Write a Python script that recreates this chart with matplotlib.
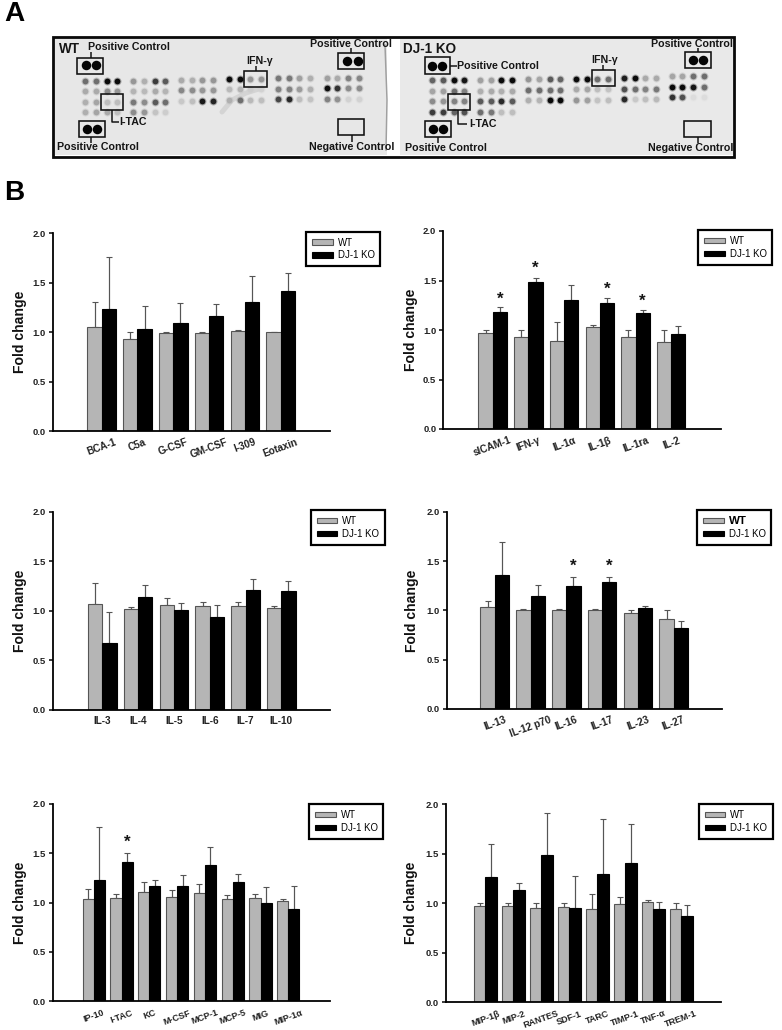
import matplotlib
import matplotlib.pyplot as plt
from matplotlib.patches import Rectangle

matplotlib.use('Agg')

plt.rcParams['font.family'] = ['Liberation Sans', 'DejaVu Sans']

W, H = 782, 1030

# --- values ---
labels_1 = ['BCA-1', 'C5a', 'G-CSF', 'GM-CSF', 'I-309', 'Eotaxin']
wt_1 = [1.05, 0.93, 0.99, 0.99, 1.01, 1.00]
wt_err_1 = [0.25, 0.07, 0.01, 0.01, 0.01, 0.005]
ko_1 = [1.23, 1.03, 1.09, 1.16, 1.30, 1.42]
ko_err_1 = [0.53, 0.23, 0.20, 0.12, 0.27, 0.18]
stars_1 = {}

labels_2 = ['sICAM-1', 'IFN-γ', 'IL-1α', 'IL-1β', 'IL-1ra', 'IL-2']
wt_2 = [0.97, 0.93, 0.89, 1.03, 0.93, 0.88]
wt_err_2 = [0.03, 0.07, 0.19, 0.025, 0.07, 0.12]
ko_2 = [1.18, 1.48, 1.30, 1.27, 1.17, 0.96]
ko_err_2 = [0.05, 0.05, 0.15, 0.05, 0.035, 0.08]
stars_2 = {0: 1.31, 1: 1.625, 3: 1.41, 4: 1.29}

labels_3 = ['IL-3', 'IL-4', 'IL-5', 'IL-6', 'IL-7', 'IL-10']
wt_3 = [1.065, 1.02, 1.06, 1.05, 1.05, 1.025]
wt_err_3 = [0.21, 0.02, 0.065, 0.04, 0.04, 0.025]
ko_3 = [0.67, 1.135, 1.01, 0.94, 1.205, 1.20]
ko_err_3 = [0.315, 0.12, 0.07, 0.12, 0.115, 0.095]
stars_3 = {}

labels_4 = ['IL-13', 'IL-12 p70', 'IL-16', 'IL-17', 'IL-23', 'IL-27']
wt_4 = [1.03, 1.005, 1.005, 1.005, 0.97, 0.91]
wt_err_4 = [0.06, 0.005, 0.005, 0.005, 0.03, 0.09]
ko_4 = [1.36, 1.145, 1.25, 1.285, 1.02, 0.825]
ko_err_4 = [0.33, 0.115, 0.09, 0.055, 0.025, 0.07]
stars_4 = {2: 1.45, 3: 1.45}

labels_5 = ['IP-10', 'I-TAC', 'KC', 'M-CSF', 'MCP-1', 'MCP-5', 'MIG', 'MIP-1α']
wt_5 = [1.04, 1.05, 1.105, 1.06, 1.095, 1.04, 1.05, 1.02]
wt_err_5 = [0.095, 0.04, 0.10, 0.065, 0.095, 0.035, 0.04, 0.015]
ko_5 = [1.23, 1.405, 1.17, 1.165, 1.38, 1.21, 0.995, 0.93]
ko_err_5 = [0.535, 0.095, 0.06, 0.11, 0.18, 0.08, 0.16, 0.235]
stars_5 = {1: 1.605}

labels_6 = ['MIP-1β', 'MIP-2', 'RANTES', 'SDF-1', 'TARC', 'TIMP-1', 'TNF-α', 'TREM-1']
wt_6 = [0.975, 0.975, 0.95, 0.965, 0.945, 0.995, 1.015, 0.945]
wt_err_6 = [0.025, 0.025, 0.05, 0.035, 0.15, 0.07, 0.015, 0.055]
ko_6 = [1.265, 1.13, 1.49, 0.95, 1.29, 1.405, 0.94, 0.875]
ko_err_6 = [0.335, 0.075, 0.425, 0.32, 0.56, 0.395, 0.075, 0.11]
stars_6 = {}

# --- grey level of each blot spot, one list per block of rows ---
wt_spots = [
    [[110, 110, 10, 10], [170, 170, 140, 150], [175, 165, 190, 190], [175, 165, 170, 190]],
    [[150, 175, 60, 90], [180, 185, 170, 180], [120, 140, 90, 110], [140, 150, 195, 205]],
    [[170, 175, 150, 150], [135, 140, 150, 150], [200, 190, 25, 35]],
    [[10, 10, 150, 150], [185, 180, 205, 210], [175, 110, 185, 190]],
    [[120, 120, 160, 175], [130, 130, 155, 175], [70, 40, 190, 195]],
    [[160, 170, 130, 135], [15, 50, 140, 140], [130, 145, 210, 210]],
]
ko_spots = [
    [[100, 90, 10, 20], [165, 160, 110, 130], [140, 150, 130, 130], [60, 60, 100, 80]],
    [[160, 160, 10, 10], [175, 170, 175, 170], [90, 90, 40, 90], [110, 120, 190, 190]],
    [[150, 165, 90, 100], [110, 110, 110, 110], [175, 180, 10, 10]],
    [[10, 10, 110, 110], [170, 165, 190, 195], [150, 160, 195, 190]],
    [[30, 10, 170, 170], [80, 110, 130, 120], [40, 200, 190, 185]],
    [[165, 165, 110, 110], [10, 10, 20, 110], [50, 80, 220, 220]],
]

fig = plt.figure(figsize=(W / 100, H / 100), dpi=100, facecolor='white')

# overlay in pixel coordinates for panel A and the letters
page = fig.add_axes([0, 0, 1, 1], zorder=0)
page.set_xlim(0, W)
page.set_ylim(H, 0)
page.axis('off')


def px(v):
    return v * 0.72


def grey(v):
    return (v / 255, v / 255, v / 255)


def box(x0, y0, x1, y1, lw=1.6, color='#111111', z=5):
    page.add_patch(Rectangle((x0, y0), x1 - x0, y1 - y0, fill=False,
                             edgecolor=color, linewidth=px(lw), zorder=z))


def label(x, y, s, size=10.6, ha='left'):
    page.text(x, y, s, fontsize=px(size), fontweight='bold', ha=ha, va='center',
              color='#151515', zorder=6)


def leader(xs, ys):
    page.plot(xs, ys, color='#111111', lw=px(1.5), zorder=5, solid_capstyle='butt')


def spots(blocks, starts_x, starts_y):
    for block, x0, y0 in zip(blocks, starts_x, starts_y):
        for r, row in enumerate(block):
            for c, level in enumerate(row):
                x = x0 + c * 10.67
                y = y0 + r * 10.5
                page.scatter(x, y, s=px(8) ** 2, color=grey(level), alpha=0.3, linewidths=0, zorder=3)
                page.scatter(x, y, s=px(5.8) ** 2, color=grey(level), linewidths=0, zorder=3)


def controls(x0, x1, y):
    for x in (x0, x1):
        page.scatter(x, y, s=px(9.5) ** 2, color='#050505', linewidths=0, zorder=3)


# membranes
page.add_patch(Rectangle((54, 38), 333, 117, facecolor='#e7e7e7', edgecolor='none', zorder=1))
page.add_patch(Rectangle((400, 38), 333, 117, facecolor='#e9e9e9', edgecolor='none', zorder=1))
page.plot([385, 387, 386], [45, 100, 150], color='#a0a0a0', lw=px(1.5), zorder=2)
page.plot([222, 232, 246, 262], [112, 100, 93, 88], color='#cdcdcd', lw=px(5), alpha=0.7,
          solid_capstyle='round', zorder=2)
box(53, 37, 734, 156.5, lw=2.8, color='#0a0a0a')

spots(wt_spots, [85.3, 133.3, 181, 229, 278, 326.7], [80.7, 80.5, 79.5, 78.7, 78, 77.7])
spots(ko_spots, [432.3, 480, 528.3, 576, 624, 671.7], [80.3, 80, 79, 78.7, 78, 76])

# WT annotations
controls(86, 95.7, 65)
controls(347.3, 357.7, 61)
controls(86.7, 96.7, 128.7)
box(77.3, 57.7, 103.3, 74)
box(338.3, 52.7, 364, 69.3)
box(79.3, 120.7, 105, 136.7)
box(338.3, 119, 364, 135)
box(244.3, 71, 266.7, 86.7)
box(101, 94, 122.7, 110)
label(59, 49, 'WT', 13.5)
label(88, 47, 'Positive Control')
label(310, 44, 'Positive Control')
label(57, 147, 'Positive Control')
label(309, 147, 'Negative Control')
label(246, 60.5, 'IFN-γ')
label(119, 122, 'I-TAC')
leader([91, 91], [52, 58])
leader([351, 351], [48, 53])
leader([91, 91], [137, 143])
leader([352, 352], [135, 142])
leader([256, 256], [66, 71])
leader([112, 112, 119], [110, 122, 122])

# KO annotations
controls(432.3, 442, 65.7)
controls(693.3, 703.3, 60)
controls(433.3, 443.3, 129)
box(425, 57.3, 450, 74)
box(685, 51.7, 710.7, 68.3)
box(425, 120.7, 450.7, 136.7)
box(684.3, 120.7, 711, 137.3)
box(592.3, 70, 615, 86)
box(447.7, 94.3, 470, 110)
label(403, 49, 'DJ-1 KO', 13.5)
label(457, 66, 'Positive Control')
label(651, 44, 'Positive Control')
label(405, 148, 'Positive Control')
label(648, 148, 'Negative Control')
label(591, 60, 'IFN-γ')
label(469, 124, 'I-TAC')
leader([450, 457], [65.7, 65.7])
leader([698, 698], [48, 52])
leader([438, 438], [137, 143])
leader([698.3, 698.3], [137, 143])
leader([603, 603], [65, 70])
leader([458.3, 458.3, 467], [110, 124, 124])

page.text(4, 14, 'A', fontsize=px(28), fontweight='bold', va='center', color='black')
page.text(4, 193, 'B', fontsize=px(28), fontweight='bold', va='center', color='black')


def bar_panel(left, right, y_top, y_zero, center, pitch, labels, wt, wt_err, ko, ko_err, stars,
              legend_xy, label_x, label_px=10.0, tick_pad=6, wt_bold=False):
    ax = fig.add_axes([left / W, 1 - y_zero / H, (right - left) / W, (y_zero - y_top) / H], zorder=2)
    ax.patch.set_alpha(0)
    n = len(labels)
    xs = list(range(n))
    wt_x = [x - 0.2 for x in xs]
    ko_x = [x + 0.2 for x in xs]
    ax.errorbar(wt_x, wt, yerr=[[0] * n, wt_err], fmt='none', ecolor='#555555', elinewidth=px(1.2),
                capsize=px(2.6), capthick=px(1.1), zorder=1)
    ax.errorbar(ko_x, ko, yerr=[[0] * n, ko_err], fmt='none', ecolor='#555555', elinewidth=px(1.2),
                capsize=px(2.6), capthick=px(1.1), zorder=1)
    ax.bar(wt_x, wt, width=0.4, color='#b5b5b5', edgecolor='#555555', linewidth=px(1.1), zorder=2, label='WT')
    ax.bar(ko_x, ko, width=0.4, color='black', edgecolor='black', linewidth=px(1.1), zorder=2, label='DJ-1 KO')
    for i, y in stars.items():
        ax.text(ko_x[i], y, '*', fontsize=px(17), fontweight='bold', ha='center', va='center', color='#151515')

    ax.set_xlim((left - center) / pitch, (right - center) / pitch)
    ax.set_ylim(0, 2)
    ax.set_yticks([0, 0.5, 1.0, 1.5, 2.0])
    ax.set_yticklabels(['0.0', '0.5', '1.0', '1.5', '2.0'], fontsize=px(9.5), fontweight='bold', color='#222222')
    ax.set_xticks(xs)
    horizontal = labels[0] == 'IL-3'
    ax.set_xticklabels(labels, fontsize=px(label_px), fontweight='bold', color='#222222',
                       rotation=0 if horizontal else 20)
    ax.tick_params(axis='x', length=0, pad=px(tick_pad))
    ax.tick_params(axis='y', length=px(4), width=px(1.5), pad=px(3))
    for side in ('top', 'right'):
        ax.spines[side].set_visible(False)
    for side in ('left', 'bottom'):
        ax.spines[side].set_linewidth(px(1.8))
    ax.set_ylabel('Fold change', fontsize=px(14), fontweight='bold', color='#111111')
    # label_x is the right edge of the rotated text, in pixels
    ax.yaxis.set_label_coords((label_x - left) / (right - left), 0.5)

    leg = ax.legend(loc='upper left', bbox_to_anchor=legend_xy, bbox_transform=page.transData,
                    borderaxespad=0, fancybox=False, framealpha=1, edgecolor='black',
                    prop={'size': px(9.7)}, handlelength=2.16, handleheight=0.5,
                    handletextpad=0.5, labelspacing=0.3, borderpad=0.6)
    leg.get_frame().set_linewidth(px(2.2))
    leg.set_zorder(10)
    if wt_bold:
        leg.get_texts()[0].set_fontweight('bold')
        leg.get_texts()[0].set_fontsize(px(11.5))
    return ax


bar_panel(53, 330, 233.3, 431, 101.7, 35.8, labels_1, wt_1, wt_err_1, ko_1, ko_err_1, stars_1, (306, 231.7), 27)
bar_panel(443.3, 721, 231, 429, 492.7, 35.7, labels_2, wt_2, wt_err_2, ko_2, ko_err_2, stars_2, (698, 230), 418)
bar_panel(53, 330, 511.7, 709.7, 102.3, 35.8, labels_3, wt_3, wt_err_3, ko_3, ko_err_3, stars_3, (310.7, 510), 27)
bar_panel(446.7, 722, 511.7, 709, 494.7, 35.8, labels_4, wt_4, wt_err_4, ko_4, ko_err_4, stars_4, (697, 510), 419,
          wt_bold=True)
bar_panel(53, 330, 803.7, 1001.3, 93.7, 27.8, labels_5, wt_5, wt_err_5, ko_5, ko_err_5, stars_5, (309, 804), 27,
          label_px=9, tick_pad=7)
bar_panel(445.7, 721, 804.3, 1002, 485.3, 28, labels_6, wt_6, wt_err_6, ko_6, ko_err_6, stars_6, (698.7, 804), 418,
          label_px=9, tick_pad=7)

fig.savefig('out.png', dpi=100)
